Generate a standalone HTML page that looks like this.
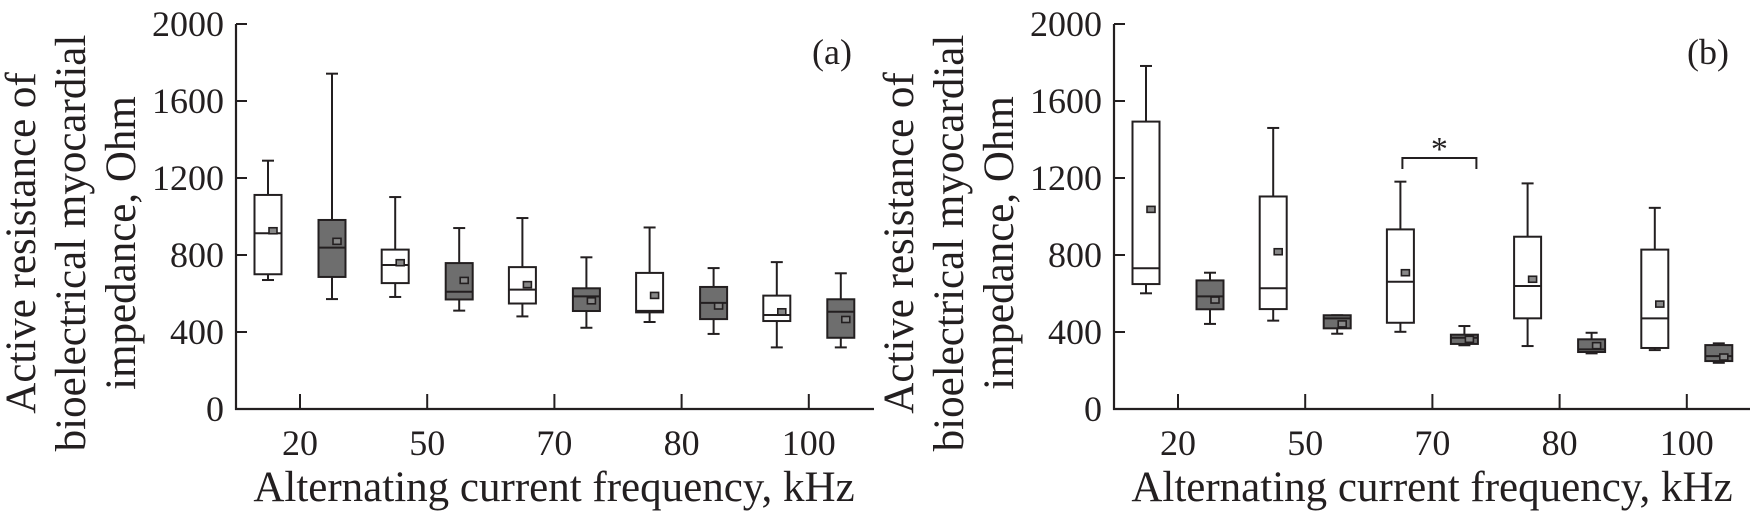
<!DOCTYPE html>
<html><head><meta charset="utf-8">
<style>
html,body{margin:0;padding:0;background:#fff;}
svg{display:block;}
text{font-family:"Liberation Serif",serif;fill:#231f20;}
</style></head>
<body>
<svg id="chart" width="1750" height="514" viewBox="0 0 1750 514" xmlns="http://www.w3.org/2000/svg"></svg>
<script>
const categories = ["20","50","70","80","100"];
const yTicks = [0,400,800,1200,1600,2000];
// panel a: [whiskerLow, q1, median, q3, whiskerHigh, mean]
const aWhite = [[670,700,913,1112,1290,926],[582,654,748,828,1101,760],[481,548,620,737,992,646],[452,502,510,707,943,590],[320,457,488,589,763,505]];
const aGray  = [[571,686,838,982,1742,871],[511,569,609,758,940,668],[422,509,585,627,788,562],[390,467,551,634,732,535],[320,370,505,570,705,465]];
const bWhite = [[601,649,731,1493,1782,1037],[459,519,627,1104,1460,817],[401,448,661,933,1181,708],[327,471,639,895,1172,674],[306,317,471,828,1045,545]];
const bGray  = [[442,518,585,668,708,566],[391,419,471,487,487,442],[331,338,370,386,431,362],[289,296,310,362,396,329],[240,249,275,332,341,270]];

const NS="http://www.w3.org/2000/svg";
const svg=document.getElementById('chart');
function mk(tag,attrs,parent){const e=document.createElementNS(NS,tag);for(const k in attrs)e.setAttribute(k,attrs[k]);(parent||svg).appendChild(e);return e;}
const y0=409, ky=0.1925;
function yS(v){return y0-v*ky;}
const STROKE="#231f20", GRAY="#6e6e6e";

function panel(id,axisX,firstCat,axisEnd,white,gray,tag,titleX){
  const g=mk('g',{});
  
  
  const xS=i=>firstCat+i*127.2;
  const ya=mk('line',{x1:axisX,y1:yS(2000),x2:axisX,y2:y0+1,stroke:STROKE,'stroke-width':2.2},g);
  
  
  const xa=mk('line',{x1:axisX-1,y1:y0,x2:axisEnd,y2:y0,stroke:STROKE,'stroke-width':2.2},g);
  
  
  yTicks.forEach(t=>{
    mk('line',{x1:axisX,y1:yS(t),x2:axisX+11,y2:yS(t),stroke:STROKE,'stroke-width':2},g);
    const tx=mk('text',{x:axisX-12,y:yS(t)+12,'text-anchor':'end','font-size':36},g);
    tx.textContent=t;
    
    
  });
  categories.forEach((c,i)=>{
    mk('line',{x1:xS(i),y1:y0,x2:xS(i),y2:y0-15,stroke:STROKE,'stroke-width':2},g);
    const tx=mk('text',{x:xS(i),y:455,'text-anchor':'middle','font-size':36},g);
    tx.textContent=c;
    
    
    [[white[i],-32,'#fff','white'],[gray[i],32,GRAY,'gray']].forEach(([d,off,fill,kind])=>{
      const cx=xS(i)+off, w=27;
      const bg=mk('g',{},g);
      
      
      mk('line',{x1:cx,y1:yS(d[0]),x2:cx,y2:yS(d[1]),stroke:STROKE,'stroke-width':2},bg);
      mk('line',{x1:cx,y1:yS(d[3]),x2:cx,y2:yS(d[4]),stroke:STROKE,'stroke-width':2},bg);
      mk('line',{x1:cx-6,y1:yS(d[0]),x2:cx+6,y2:yS(d[0]),stroke:STROKE,'stroke-width':2},bg);
      mk('line',{x1:cx-6,y1:yS(d[4]),x2:cx+6,y2:yS(d[4]),stroke:STROKE,'stroke-width':2},bg);
      mk('rect',{x:cx-w/2,y:yS(d[3]),width:w,height:Math.max(1,yS(d[1])-yS(d[3])),fill:fill,stroke:STROKE,'stroke-width':2},bg);
      mk('line',{x1:cx-w/2,y1:yS(d[2]),x2:cx+w/2,y2:yS(d[2]),stroke:STROKE,'stroke-width':2},bg);
      mk('rect',{x:cx+1,y:yS(d[5])-3,width:8,height:6,fill:'#888',stroke:STROKE,'stroke-width':1.6},bg);
    });
  });
  const lab=mk('text',{x:axisEnd-42,y:64,'text-anchor':'middle','font-size':36},g);
  lab.textContent=tag;
  
  
  const yt=mk('text',{transform:`translate(${axisX-201},243) rotate(-90)`,'text-anchor':'middle','font-size':43},g);
  
  
  ["Active resistance of","bioelectrical myocardial","impedance, Ohm"].forEach((s,k)=>{
    const ts=mk('tspan',{x:0,y:k*50},yt);ts.textContent=s;
  });
  const xt=mk('text',{x:titleX,y:501,'text-anchor':'middle','font-size':43},g);
  xt.textContent="Alternating current frequency, kHz";
  
  
  return xS;
}
panel('a',236,300,874,aWhite,aGray,'(a)',554);
const xSb=panel('b',1114,1178,1750,bWhite,bGray,'(b)',1432);
const br=mk('path',{d:`M${xSb(2)-30},169 V158 H${xSb(2)+44} V169`,fill:'none',stroke:STROKE,'stroke-width':2});


const st=mk('text',{x:xSb(2)+7,y:160,'text-anchor':'middle','font-size':34});
st.textContent="*";


</script>
</body></html>
